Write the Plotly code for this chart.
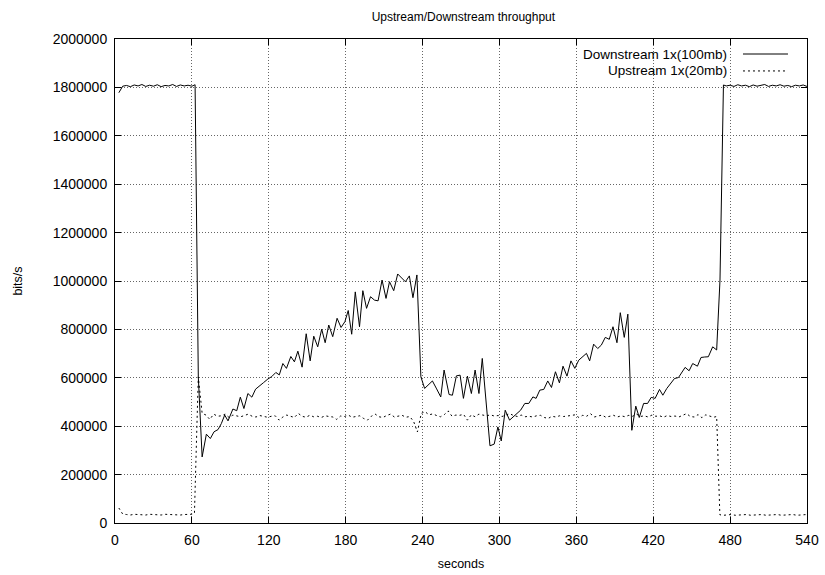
import plotly.graph_objects as go

# ---------------- data ----------------
down_t = [3, 6, 9, 12, 15, 18, 21, 24, 27, 30, 33, 36, 39, 42, 45, 48, 51, 54, 57, 60,
          62.5, 65, 68, 71.3, 74.4, 77.3, 80.4, 83, 85.6, 88.2, 92, 95, 97.8, 100.6, 103.7,
          106.8, 109.7, 112.8, 115.9, 119.3, 122.3, 125.5, 128.2, 131, 133.8, 137.2, 140,
          142.7, 146, 149.2, 152.3, 155.1, 158.2, 161.3, 164, 166.8, 169.9, 173.3, 176.4,
          179.4, 182, 184.7, 187.5, 190.8, 193.4, 196.3, 199.4, 202.5, 205.3, 208.4, 211.5,
          214.2, 217.5, 220.6, 224, 226.6, 229.7, 232.5, 235.6, 238.7, 241.6, 244.7, 247.7,
          251, 254.2, 256.8, 260.7, 263.3, 266.4, 269.3, 271.9, 275, 278.1, 281, 284, 286.6,
          289.6, 292.6, 295.9, 298.8, 301.4, 304.5, 307.9, 310.3, 312.6, 316.5, 319.8, 322.9,
          326.1, 328.6, 331.5, 334.6, 337.7, 340.6, 343.7, 346.8, 349.6, 352.7, 355.8, 358.8,
          361.9, 364.9, 367.9, 370.4, 373.5, 376.7, 379.5, 382.6, 385.7, 388.6, 391.7, 394.3,
          397.4, 400.2, 403.3, 406.4, 409.1, 412.5, 415.6, 418.4, 421.5, 424.9, 427.5, 430.6,
          433.7, 436.6, 439.7, 442.3, 444.9, 448, 450.8, 454.5, 457.3, 460.2, 463, 466.4,
          469.5, 472.1, 474.8, 477, 480, 483, 486, 489, 492, 495, 498, 501, 504, 507, 510,
          513, 516, 519, 522, 525, 528, 531, 534, 537, 540]
down_v = [1778000, 1805000, 1808000, 1803000, 1810000, 1806000, 1812000, 1804000, 1809000,
          1805000, 1811000, 1803000, 1808000, 1806000, 1812000, 1804000, 1810000, 1806000,
          1809000, 1805000,
          1811000, 604000, 273000, 367000, 349000, 377000, 386000, 411000, 446000, 422000,
          471000, 464000, 520000, 473000, 535000, 520000, 553000, 568000, 580000, 595000,
          605000, 622000, 612000, 659000, 639000, 688000, 666000, 710000, 644000, 782000,
          670000, 772000, 728000, 801000, 745000, 818000, 770000, 846000, 808000, 832000,
          878000, 780000, 955000, 811000, 960000, 887000, 935000, 921000, 918000, 1004000,
          928000, 997000, 960000, 1029000, 1011000, 997000, 1021000, 931000, 1025000,
          604000, 556000, 572000, 587000, 554000, 521000, 632000, 531000, 528000, 608000,
          611000, 515000, 607000, 535000, 632000, 535000, 680000, 500000, 319000, 326000,
          397000, 339000, 466000, 425000, 436000, 446000, 466000, 494000, 494000, 521000,
          515000, 549000, 552000, 587000, 560000, 625000, 579000, 648000, 607000, 670000,
          639000, 673000, 688000, 701000, 670000, 739000, 721000, 735000, 767000, 759000,
          811000, 745000, 869000, 767000, 863000, 383000, 483000, 436000, 494000, 494000,
          519000, 515000, 552000, 528000, 556000, 577000, 597000, 601000, 622000, 643000,
          629000, 659000, 648000, 684000, 686000, 687000, 728000, 715000, 1004000,
          1810000, 1806000, 1809000, 1804000, 1811000, 1806000, 1809000, 1803000, 1810000,
          1805000, 1808000, 1812000, 1804000, 1809000, 1806000, 1811000, 1805000, 1808000,
          1803000, 1809000, 1806000, 1810000, 1804000, 1807000, 1803000]

up_t = [3, 6, 9, 12, 15, 18, 21, 24, 27, 30, 33, 36, 39, 42, 45, 48, 51, 54, 57, 60, 62, 65,
        68, 71, 74, 77, 80, 83, 86, 89, 92, 95, 98, 101, 104, 107, 110, 113, 116, 119, 122,
        125, 128, 131, 134, 137, 140, 143, 146, 149, 152, 155, 158, 161, 164, 167, 170, 173,
        176, 179, 182, 185, 188, 191, 194, 197, 200, 203, 206, 209, 212, 215, 218, 221, 224,
        227, 230, 233, 236, 239, 242, 245, 248, 251, 254, 257, 260, 263, 266, 269, 272, 275,
        278, 281, 284, 287, 290, 293, 296, 299, 302, 305, 308, 311, 314, 317, 320, 323, 326,
        329, 332, 335, 338, 341, 344, 347, 350, 353, 356, 359, 362, 365, 368, 371, 374, 377,
        380, 383, 386, 389, 392, 395, 398, 401, 404, 407, 410, 413, 416, 419, 422, 425, 428,
        431, 434, 437, 440, 443, 446, 449, 452, 455, 458, 461, 464, 467, 469.5, 472, 475,
        478, 481, 484, 487, 490, 493, 496, 499, 502, 505, 508, 511, 514, 517, 520, 523, 526,
        529, 532, 535, 538, 540]
up_v = [62000, 37000, 35000, 33000, 36000, 34000, 35000, 33000, 36000, 34000, 35000, 33000,
        36000, 35000, 34000, 36000, 33000, 35000, 34000, 36000, 40000, 604000,
        453000, 446000, 428000, 450000, 441000, 443000, 450000, 436000, 446000, 442000,
        439000, 444000, 450000, 441000, 438000, 444000, 440000, 437000, 441000, 443000,
        425000, 438000, 446000, 440000, 436000, 453000, 441000, 437000, 445000, 439000,
        441000, 436000, 443000, 440000, 438000, 428000, 442000, 440000, 446000, 437000,
        441000, 443000, 432000, 425000, 441000, 450000, 439000, 436000, 444000, 450000,
        438000, 441000, 445000, 437000, 440000, 420000, 376000, 453000, 460000, 447000,
        451000, 444000, 439000, 448000, 463000, 441000, 446000, 445000, 449000, 425000,
        447000, 439000, 450000, 446000, 443000, 447000, 442000, 444000, 440000, 446000,
        452000, 444000, 440000, 446000, 439000, 441000, 438000, 443000, 445000, 436000,
        432000, 441000, 438000, 443000, 440000, 442000, 446000, 447000, 436000, 445000,
        441000, 452000, 438000, 441000, 446000, 437000, 442000, 445000, 438000, 443000,
        439000, 445000, 441000, 450000, 440000, 443000, 438000, 446000, 441000, 443000,
        437000, 444000, 440000, 442000, 438000, 445000, 452000, 440000, 438000, 448000,
        435000, 447000, 441000, 437000, 440000, 34000, 32000, 33000, 35000, 32000, 34000,
        33000, 35000, 32000, 34000, 33000, 35000, 32000, 34000, 33000, 35000, 32000,
        34000, 33000, 35000, 32000, 34000, 33000, 35000, 34000]

x_ticks = [0, 60, 120, 180, 240, 300, 360, 420, 480, 540]
y_ticks = [0, 200000, 400000, 600000, 800000, 1000000, 1200000, 1400000, 1600000,
           1800000, 2000000]
series_names = ["Downstream 1x(100mb)", "Upstream 1x(20mb)"]

FONT = "Liberation Sans, Arial, Helvetica, sans-serif"

fig = go.Figure()
fig.add_trace(go.Scatter(x=down_t, y=down_v, mode="lines", name=series_names[0],
                         line=dict(color="black", width=1), showlegend=False))
fig.add_trace(go.Scatter(x=up_t, y=up_v, mode="lines", name=series_names[1],
                         line=dict(color="black", width=1, dash="2px,3px"), showlegend=False))

# gnuplot-style legend (text right-aligned, sample to the right)
leg_y = [0.969, 0.934]
leg_dash = [None, "2px,3px"]
for name, yy, dsh in zip(series_names, leg_y, leg_dash):
    fig.add_annotation(xref="paper", yref="paper", x=0.887, y=yy, text=name,
                       showarrow=False, xanchor="right", yanchor="middle",
                       font=dict(family=FONT, size=13.5, color="black"))
    fig.add_shape(type="line", xref="paper", yref="paper", x0=0.9075, x1=0.9725,
                  y0=yy, y1=yy, line=dict(color="black", width=1, dash=dsh))

axis_common = dict(showline=True, linecolor="black", linewidth=1, mirror="ticks",
                   ticks="inside", ticklen=6, tickcolor="black", tickwidth=1,
                   showgrid=True, gridcolor="#666666", gridwidth=1, griddash="1px,2px",
                   zeroline=False, automargin=False,
                   tickfont=dict(family=FONT, size=14, color="black"))

fig.update_layout(
    width=825, height=575, autosize=False,
    margin=dict(l=115, r=18, t=39, b=52),
    paper_bgcolor="white", plot_bgcolor="white",
    font=dict(family=FONT, size=14, color="black"),
    title=dict(text="Upstream/Downstream throughput", x=0.5617, xanchor="center",
               y=1 - 17 / 575, yref="container", yanchor="middle",
               font=dict(family=FONT, size=12, color="black")),
    xaxis=dict(range=[0, 540], tickvals=x_ticks, ticktext=[str(v) for v in x_ticks],
               ticklabelstandoff=4,
               title=dict(text="seconds", standoff=12, font=dict(family=FONT, size=12.5)),
               **axis_common),
    yaxis=dict(range=[0, 2000000], tickvals=y_ticks, ticktext=[str(v) for v in y_ticks],
               ticklabelstandoff=4,
               title=dict(text="bits/s", standoff=27, font=dict(family=FONT, size=12.5)),
               **axis_common),
)

fig.write_html("out.html")
